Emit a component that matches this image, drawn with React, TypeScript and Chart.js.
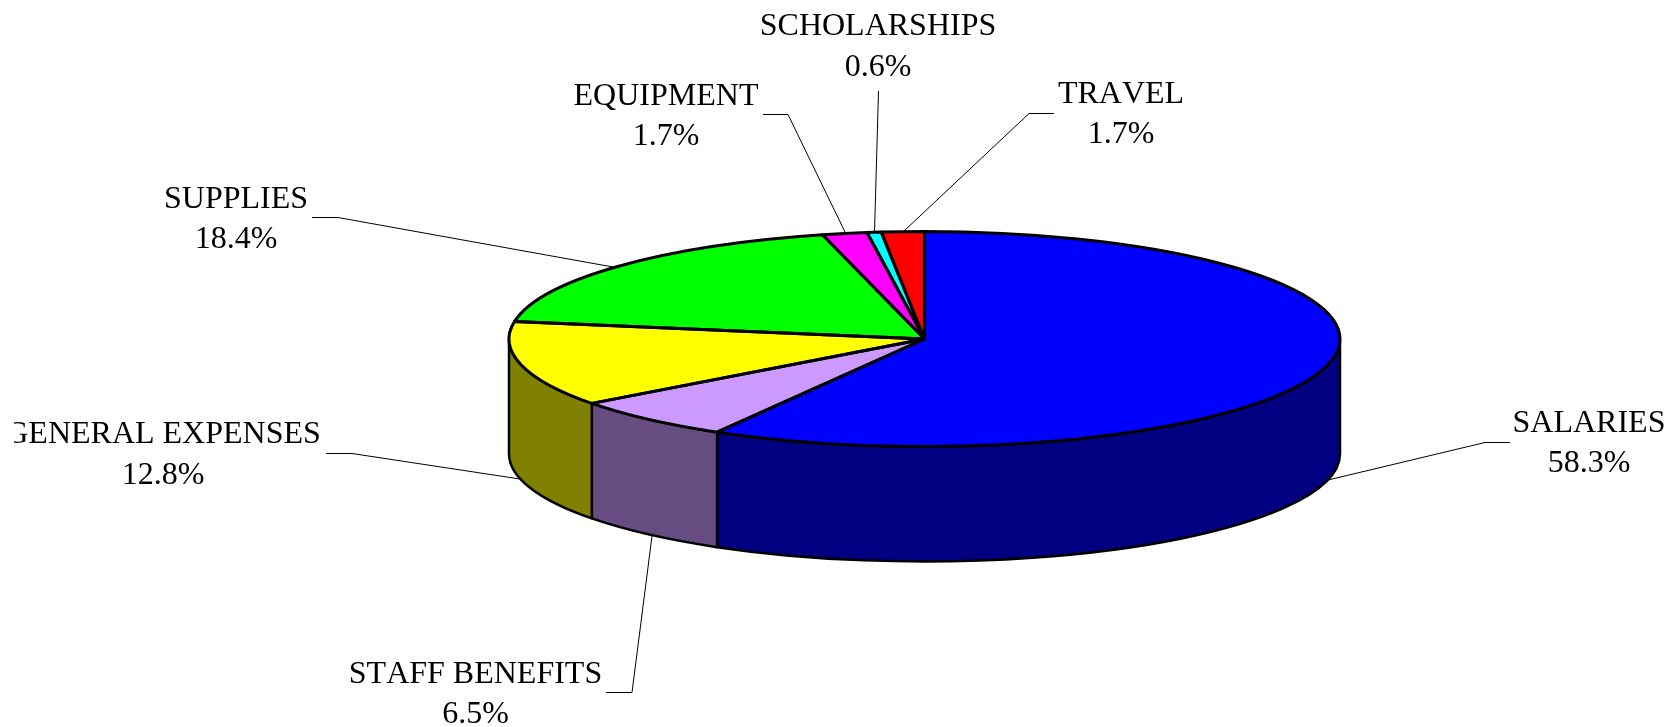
import React, { useEffect, useRef } from "react";
import { Chart, registerables } from "chart.js";

Chart.register(...registerables);

// Data (read from the slice boundaries; the labels show one decimal)
const categories = ["SALARIES", "STAFF BENEFITS", "GENERAL EXPENSES", "SUPPLIES", "EQUIPMENT", "SCHOLARSHIPS", "TRAVEL"];
const shares = [58.33, 6.46, 12.84, 18.44, 1.74, 0.55, 1.66];

// Styles
const topColors = ["#0000FF", "#CC99FF", "#FFFF00", "#00FF00", "#FF00FF", "#00FFFF", "#FF0000"];
const wallColors = ["#000080", "#664C80", "#808000", "#008000", "#800080", "#008080", "#800000"];

// Layout: [text centre x, name baseline, value baseline]
const labelSpots = [
  [1589, 432, 472],
  [475.5, 683, 723],
  [163, 443, 484],
  [236, 208, 248],
  [666, 105, 145],
  [878, 35, 76],
  [1121, 103, 143],
];
const leaders = [
  [[1510, 442.5], [1485, 442.5], [1328, 480]],
  [[606, 692.5], [632, 692.5], [652, 536]],
  [[326, 453.5], [352, 453.5], [520, 479]],
  [[312, 217.5], [338, 217.5], [613, 267]],
  [[763, 114.5], [788, 114.5], [845, 232]],
  [[878.5, 91], [874.5, 232]],
  [[1054, 113.5], [1029, 113.5], [904, 231]],
];
const PIE = { cx: 924.5, cy: 339, rx: 415.5, ry: 107.5, depth: 115 };
const CLIP_LEFT = 14;
const FONT = '32px "Liberation Serif"';

const pie3d = {
  id: "pie3d",
  beforeDatasetsDraw(chart: any) {
    const { ctx } = chart;
    const arcs = chart.getDatasetMeta(0).data;
    const { cx, cy, rx, ry, depth } = PIE;

    // Walls of the cylinder: only the part of each slice facing the viewer
    ctx.save();
    ctx.strokeStyle = "#000";
    ctx.lineWidth = 2.5;
    ctx.lineJoin = "round";
    arcs.forEach((arc: any, i: number) => {
      const tau = Math.PI * 2;
      const s0 = arc.startAngle;
      const e0 = arc.endAngle;
      for (const k of [-1, 0, 1]) {
        const s = Math.max(s0 + k * tau, 0);
        const e = Math.min(e0 + k * tau, Math.PI);
        if (e <= s) continue;
        ctx.beginPath();
        ctx.ellipse(cx, cy, rx, ry, 0, s, e);
        ctx.lineTo(cx + rx * Math.cos(e), cy + depth + ry * Math.sin(e));
        ctx.ellipse(cx, cy + depth, rx, ry, 0, e, s, true);
        ctx.closePath();
        ctx.fillStyle = wallColors[i];
        ctx.fill();
        ctx.stroke();
      }
    });
    ctx.restore();

    // Squash the library's round slices into the tilted top face
    const a = arcs[0];
    const R = a.outerRadius;
    ctx.save();
    ctx.translate(cx, cy);
    ctx.scale(rx / R, ry / R);
    ctx.translate(-a.x, -a.y);
  },
  afterDatasetsDraw(chart: any) {
    const { ctx } = chart;
    ctx.restore();
    const arcs = chart.getDatasetMeta(0).data;
    const { cx, cy, rx, ry } = PIE;

    // Slice outlines at an even pen width
    ctx.save();
    ctx.strokeStyle = "#000";
    ctx.lineWidth = 3;
    ctx.lineJoin = "round";
    arcs.forEach((arc: any) => {
      ctx.beginPath();
      ctx.moveTo(cx, cy);
      ctx.ellipse(cx, cy, rx, ry, 0, arc.startAngle, arc.endAngle);
      ctx.closePath();
      ctx.stroke();
    });
    ctx.restore();

    // Leader lines
    ctx.save();
    ctx.strokeStyle = "#000";
    ctx.lineWidth = 1;
    leaders.forEach((pts) => {
      ctx.beginPath();
      pts.forEach(([x, y], i) => (i ? ctx.lineTo(x, y) : ctx.moveTo(x, y)));
      ctx.stroke();
    });
    ctx.restore();

    // Labels
    ctx.save();
    ctx.beginPath();
    ctx.rect(CLIP_LEFT, 0, chart.width - CLIP_LEFT, chart.height);
    ctx.clip();
    ctx.font = FONT;
    ctx.fontKerning = "none";
    ctx.fillStyle = "#000";
    ctx.textAlign = "center";
    ctx.textBaseline = "alphabetic";
    categories.forEach((name, i) => {
      const [x, y1, y2] = labelSpots[i];
      ctx.fillText(name, x, y1);
      ctx.fillText(shares[i].toFixed(1) + "%", x, y2);
    });
    ctx.restore();
  },
};

export default function App() {
  const ref = useRef<HTMLCanvasElement>(null);
  useEffect(() => {
    const chart = new Chart(ref.current as HTMLCanvasElement, {
      type: "pie",
      data: {
        labels: categories,
        datasets: [{ data: shares, backgroundColor: topColors, borderWidth: 0 }],
      },
      options: {
        responsive: false,
        animation: false,
        devicePixelRatio: 1,
        plugins: { legend: { display: false }, tooltip: { enabled: false } },
      },
      plugins: [pie3d],
    } as any);
    return () => chart.destroy();
  }, []);
  return (
    <canvas
      ref={ref}
      width={1674}
      height={727}
      style={{ position: "fixed", left: 0, top: 0, width: 1674, height: 727, display: "block", background: "#fff" }}
    />
  );
}
